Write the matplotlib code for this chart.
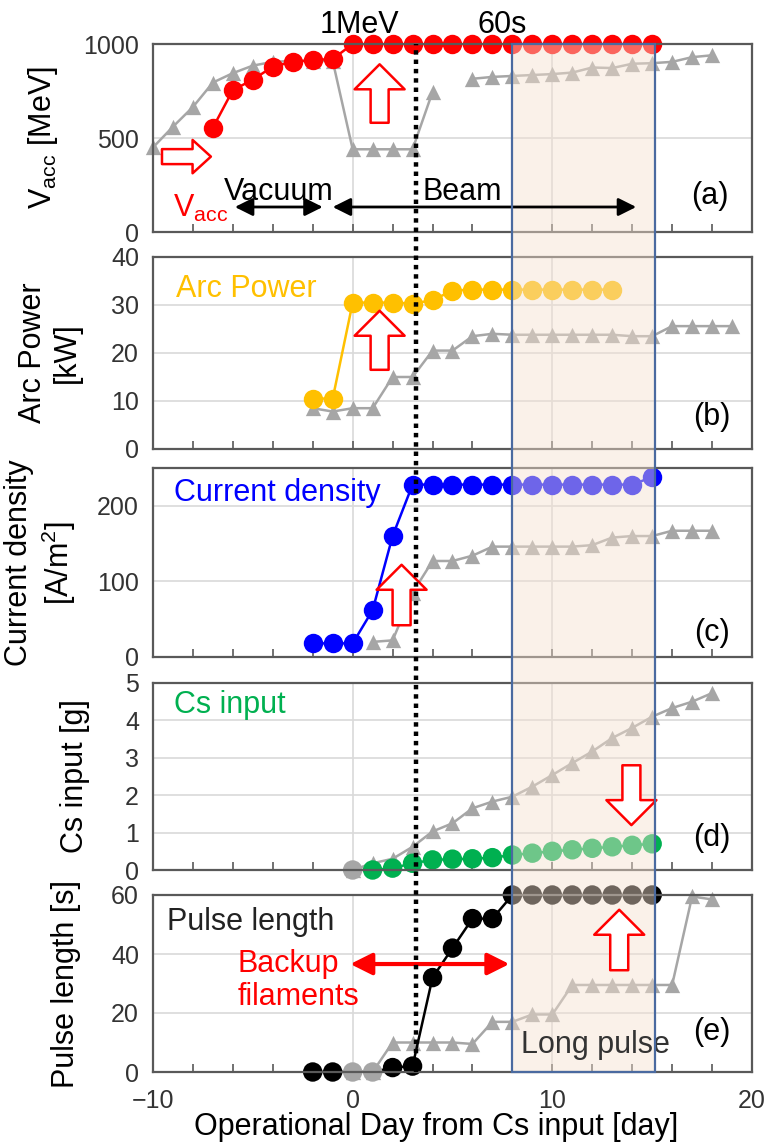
"""Operational history of the ion source after Cs input, five stacked panels"""

import numpy as np
import matplotlib.pyplot as plt
import matplotlib.transforms as mtransforms
from matplotlib.patches import Rectangle
from matplotlib.lines import Line2D
from matplotlib.ticker import MultipleLocator

plt.rcParams['font.family'] = ['Liberation Sans', 'DejaVu Sans']
plt.rcParams['mathtext.default'] = 'regular'

# ---- data ----
vacc_days = np.arange(-7, 16)
vacc = [555, 755, 810, 880, 905, 915, 920,
        1000, 1000, 1000, 1000, 1000, 1000, 1000, 1000,
        1000, 1000, 1000, 1000, 1000, 1000, 1000, 1000]
vacc_ref_days = np.arange(-10, 19)
vacc_ref = [450, 560, 665, 795, 845, 885, 905, 910, 910, 910,
            440, 440, 440, 440, 745, np.nan,
            815, 825, 830, 835, 840, 848, 875, 872, 895, 898, 905, 930, 940]

arc_days = np.arange(-2, 14)
arc = [10.5, 10.5, 30.5, 30.5, 30.5, 30.3, 31.0,
       33.0, 33.2, 33.2, 33.2, 33.2, 33.2, 33.2, 33.2, 33.2]
arc_ref_days = np.arange(-2, 20)
arc_ref = [8.5, 7.8, 8.5, 8.5, 15.0, 15.0, 20.5, 20.5, 23.5, 24.0, 23.8,
           23.8, 23.8, 23.8, 23.8, 23.8, 23.5, 23.5, 25.6, 25.6, 25.6, 25.6]

cd_days = np.arange(-2, 16)
cd = [18, 18, 18, 62, 160, 228, 228, 228, 228, 228, 228, 228,
      228, 228, 228, 228, 228, 238]
cd_ref_days = np.arange(1, 19)
cd_ref = [20, 22, 85, 127, 127, 134, 146, 146, 146, 146, 146, 148,
          158, 160, 160, 167, 167, 167]

cs_days = np.arange(0, 16)
cs = [0.0, 0.0, 0.05, 0.18, 0.27, 0.29, 0.30, 0.33, 0.40, 0.45, 0.50,
      0.54, 0.58, 0.62, 0.66, 0.70]
cs_ref_days = np.arange(0, 19)
cs_ref = [0.0, 0.18, 0.30, 0.62, 1.03, 1.25, 1.65, 1.83, 1.96, 2.23, 2.54,
          2.86, 3.17, 3.53, 3.80, 4.10, 4.33, 4.50, 4.73]

pulse_days = np.arange(-2, 16)
pulse = [0, 0, 0, 0, 1.5, 2, 32, 42, 52, 52, 60, 60, 60, 60, 60, 60, 60, 60]
pulse_ref_days = np.arange(0, 19)
pulse_ref = [0, 0, 10, 10, 10, 10, 9.5, 17, 17, 19.5, 19.5,
             29.5, 29.5, 29.5, 29.5, 29.5, 29.5, 59.5, 58.5]

x_ticks = [-10, 0, 10, 20]
mev_day = 3.15
long_pulse = (8.0, 15.15)

RED = '#ff0000'
YELLOW = '#ffc000'
BLUE = '#0000ff'
GREEN = '#00b050'
BLACK = '#000000'
GRAY = '#a6a6a6'
SPINE = '#595959'
BOXBLUE = '#4a6aa0'
SHADE = (245 / 255, 225 / 255, 208 / 255)

W, H = 768, 1144
fig = plt.figure(figsize=(W / 100, H / 100), dpi=100)

# pixel rows of the five panels (top, bottom)
rows = [(44, 232), (257, 449), (468, 657), (683, 870), (895, 1072)]
axes = [fig.add_axes([153 / W, 1 - b / H, (752 - 153) / W, (b - t) / H])
        for t, b in rows]
ax_a, ax_b, ax_c, ax_d, ax_e = axes


def style(ax, ylim, ystep):
    ax.set_xlim(-10, 20)
    ax.set_ylim(*ylim)
    ax.xaxis.set_major_locator(MultipleLocator(10))
    ax.xaxis.set_minor_locator(MultipleLocator(2))
    ax.yaxis.set_major_locator(MultipleLocator(ystep))
    ax.tick_params(axis='x', which='both', direction='in', length=6,
                   width=1.2, color=SPINE, labelsize=18, pad=12,
                   labelcolor='#333333')
    ax.tick_params(axis='y', length=0, labelsize=18, pad=10,
                   labelcolor='#333333')
    ax.grid(True, which='major', color='#d9d9d9', lw=1.2)
    ax.set_axisbelow(True)
    for s in ax.spines.values():
        s.set_color(SPINE)
        s.set_linewidth(1.6)
    # long pulse shading drawn over the data so the markers look faded
    ax.axvspan(*long_pulse, color=SHADE, alpha=0.45, lw=0, zorder=3,
               clip_on=False)


def series(ax, days, vals, color, marker='o', ms=14, face=None):
    ax.plot(days, vals, color=color, lw=1.8, zorder=2)
    ax.scatter(days, vals, s=ms ** 2, marker=marker,
               c=face if face is not None else color, lw=0, zorder=2,
               clip_on=False)


def up_arrow(ax, x, y0, y1, scale=36):
    ax.annotate('', xy=(x, y1), xytext=(x, y0),
                arrowprops=dict(arrowstyle='simple,head_length=0.5,head_width=1.0,tail_width=0.36',
                                fc='white', ec=RED, lw=1.8, mutation_scale=scale,
                                shrinkA=0, shrinkB=0), zorder=6)


def both_arrow(ax, x0, x1, y, color, lw, scale):
    ax.annotate('', xy=(x1, y), xytext=(x0, y),
                arrowprops=dict(arrowstyle='<|-|>,head_length=0.6,head_width=0.3',
                                color=color, lw=lw, mutation_scale=scale,
                                shrinkA=0, shrinkB=0), zorder=6)


tfont = dict(fontsize=22, zorder=6)

# (a) acceleration voltage
style(ax_a, (0, 1000), 500)
series(ax_a, vacc_ref_days, vacc_ref, GRAY, marker='^', ms=11)
series(ax_a, vacc_days, vacc, RED)
ax_a.set_ylabel('V$_{acc}$ [MeV]', fontsize=22)
ax_a.yaxis.set_label_coords(-0.155, 0.5)
ax_a.text(-7.6, 125, 'V$_{acc}$', color=RED, ha='center', va='center', **tfont)
ax_a.annotate('', xy=(-7.1, 401), xytext=(-9.55, 401),
              arrowprops=dict(arrowstyle='simple,head_length=0.55,head_width=1.0,tail_width=0.45',
                              fc='white', ec=RED, lw=1.8, mutation_scale=24,
                              shrinkA=0, shrinkB=0), zorder=6)
up_arrow(ax_a, 1.35, 581, 892)
ax_a.text(-3.7, 214, 'Vacuum', ha='center', va='center', **tfont)
both_arrow(ax_a, -5.9, -1.5, 133, BLACK, 2, 18)
ax_a.text(5.5, 214, 'Beam', ha='center', va='center', **tfont)
both_arrow(ax_a, -1.0, 14.2, 133, BLACK, 2, 18)
ax_a.text(17.9, 190, '(a)', ha='center', va='center', **tfont)
ax_a.text(0.35, 1100, '1MeV', ha='center', va='center', clip_on=False, **tfont)
ax_a.text(7.5, 1100, '60s', ha='center', va='center', clip_on=False, **tfont)

# (b) arc power
style(ax_b, (0, 40), 10)
series(ax_b, arc_ref_days, arc_ref, GRAY, marker='^', ms=11)
series(ax_b, arc_days, arc, YELLOW)
ax_b.set_ylabel('Arc Power\n[kW]', fontsize=22)
ax_b.yaxis.set_label_coords(-0.118, 0.5)
ax_b.text(-8.85, 33.3, 'Arc Power', color=YELLOW, ha='left', va='center', **tfont)
up_arrow(ax_b, 1.35, 16.5, 28.8)
ax_b.text(18.0, 6.7, '(b)', ha='center', va='center', **tfont)

# (c) current density
style(ax_c, (0, 250), 100)
series(ax_c, cd_ref_days, cd_ref, GRAY, marker='^', ms=11)
series(ax_c, cd_days, cd, BLUE)
ax_c.set_ylabel('Current density\n[A/m$^2$]', fontsize=22)
ax_c.yaxis.set_label_coords(-0.125, 0.5)
ax_c.text(-8.95, 217, 'Current density', color=BLUE, ha='left', va='center', **tfont)
up_arrow(ax_c, 2.45, 42, 122)
ax_c.text(18.0, 32, '(c)', ha='center', va='center', **tfont)

# (d) Cs input
style(ax_d, (0, 5), 1)
series(ax_d, cs_ref_days, cs_ref, GRAY, marker='^', ms=11)
series(ax_d, cs_days, cs, GREEN,
       face=[GRAY if d == 0 else GREEN for d in cs_days])
ax_d.set_ylabel('Cs input [g]', fontsize=22)
ax_d.yaxis.set_label_coords(-0.105, 0.5)
ax_d.text(-8.95, 4.4, 'Cs input', color=GREEN, ha='left', va='center', **tfont)
up_arrow(ax_d, 13.96, 2.8, 1.2)
ax_d.text(18.0, 0.85, '(d)', ha='center', va='center', **tfont)

# (e) pulse length
style(ax_e, (0, 60), 20)
series(ax_e, pulse_ref_days, pulse_ref, GRAY, marker='^', ms=11)
series(ax_e, pulse_days, pulse, BLACK,
       face=[GRAY if d in (0, 1) else BLACK for d in pulse_days])
ax_e.set_ylabel('Pulse length [s]', fontsize=22)
ax_e.yaxis.set_label_coords(-0.12, 0.5)
ax_e.set_xticks(x_ticks)
ax_e.set_xlabel('Operational Day from Cs input [day]', fontsize=22)
ax_e.xaxis.set_label_coords(0.472, -0.225)
ax_e.text(-9.3, 51, 'Pulse length', color='#222222', ha='left', va='center', **tfont)
ax_e.text(-5.75, 31, 'Backup\nfilaments', color=RED, ha='left', va='center',
          linespacing=1.15, **tfont)
both_arrow(ax_e, -0.12, 7.85, 36.6, RED, 3, 22)
up_arrow(ax_e, 13.35, 34.5, 55)
ax_e.text(8.45, 9, 'Long pulse', color='#333333', ha='left', va='center', **tfont)
ax_e.text(18.0, 13.7, '(e)', ha='center', va='center', **tfont)

for ax in axes[:-1]:
    ax.tick_params(axis='x', labelbottom=False)

# figure-wide marks spanning all panels
trans = mtransforms.blended_transform_factory(ax_e.transData, fig.transFigure)
y_bot = 1 - rows[-1][1] / H
y_top = 1 - rows[0][0] / H
for (t0, b0), (t1, b1) in zip(rows[:-1], rows[1:]):
    fig.add_artist(Rectangle((long_pulse[0], 1 - t1 / H), long_pulse[1] - long_pulse[0],
                             (t1 - b0) / H, transform=trans, fc=SHADE, alpha=0.45,
                             lw=0, zorder=1))
fig.add_artist(Rectangle((long_pulse[0], y_bot), long_pulse[1] - long_pulse[0],
                         y_top - y_bot, transform=trans, fill=False,
                         ec=BOXBLUE, lw=1.6, zorder=5))
fig.add_artist(Line2D([mev_day, mev_day], [y_bot, y_top], transform=trans,
                      color=BLACK, lw=3.2, dashes=(1, 1.1), zorder=5))

fig.savefig('out.png', dpi=100)
